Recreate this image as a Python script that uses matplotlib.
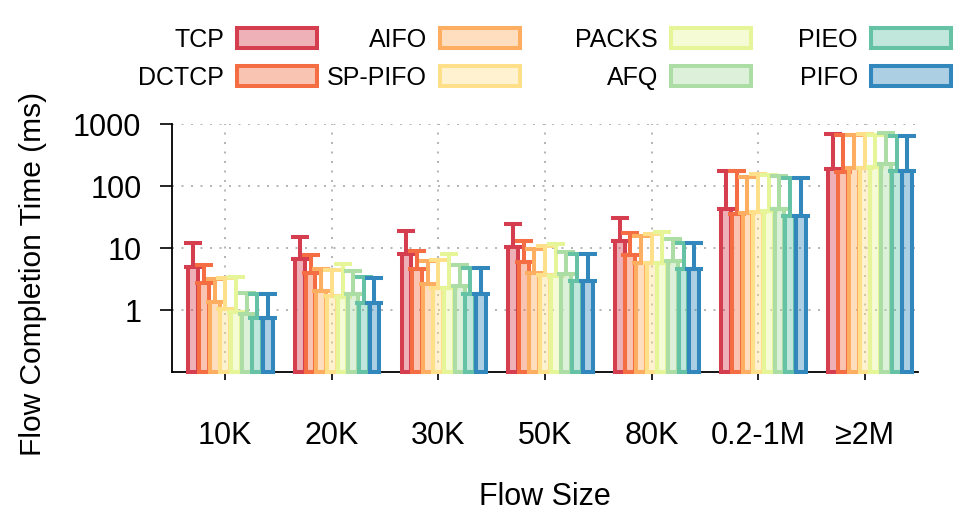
import numpy as np
import matplotlib
matplotlib.use("Agg")
import matplotlib.pyplot as plt
from matplotlib.patches import Patch
from matplotlib.colors import to_rgba
from matplotlib import font_manager

plt.rcParams['font.family'] = ['Liberation Sans', 'DejaVu Sans']

categories = ["10K", "20K", "30K", "50K", "80K", "0.2-1M", "≥2M"]
series = ["TCP", "DCTCP", "AIFO", "SP-PIFO", "PACKS", "AFQ", "PIEO", "PIFO"]
colors = ["#d53e4f", "#f46d43", "#fdae61", "#fee08b", "#e6f598", "#abdda4", "#66c2a5", "#3288bd"]

# mean flow completion times (ms), per series, per category
tcp    = [4.9, 6.7, 8.0, 10.5, 13.1, 43, 186]
dctcp  = [2.7, 3.9, 4.6, 5.95, 7.7, 35.7, 170]
aifo   = [1.35, 2.0, 2.6, 3.9, 5.8, 37, 192]
sppifo = [1.05, 1.68, 2.24, 3.7, 5.65, 37.6, 192]
packs  = [0.93, 1.64, 2.29, 3.6, 5.8, 40, 200]
afq    = [0.85, 1.81, 2.44, 3.8, 6.25, 43, 226]
pieo   = [0.75, 1.28, 1.81, 2.93, 4.6, 32.4, 176]
pifo   = [0.75, 1.31, 1.81, 2.93, 4.6, 33, 176]

# upper ends of the error bars (ms)
tcp_hi    = [11.9, 14.9, 19.0, 24.1, 30.1, 173, 682]
dctcp_hi  = [5.3, 7.7, 9.0, 12.8, 17.3, 175, 661]
aifo_hi   = [3.2, 4.6, 6.2, 9.7, 15.6, 141, 661]
sppifo_hi = [3.3, 4.47, 6.4, 10.9, 16.6, 155, 689]
packs_hi  = [3.37, 5.6, 7.9, 11.6, 18.1, 150, 670]
afq_hi    = [1.9, 4.2, 5.3, 8.6, 14.1, 143, 714]
pieo_hi   = [1.8, 3.37, 4.8, 7.9, 12.1, 134, 633]
pifo_hi   = [1.8, 3.28, 4.8, 7.9, 12.1, 134, 633]

means = [tcp, dctcp, aifo, sppifo, packs, afq, pieo, pifo]
highs = [tcp_hi, dctcp_hi, aifo_hi, sppifo_hi, packs_hi, afq_hi, pieo_hi, pifo_hi]

available = {f.name for f in font_manager.fontManager.ttflist}
if 'Liberation Sans Narrow' in available:
    leg_family = ['Liberation Sans Narrow', 'Liberation Sans', 'DejaVu Sans']
    leg_size = 21
else:
    leg_family = ['Liberation Sans', 'DejaVu Sans']
    leg_size = 18

W, H = 969, 527
fig = plt.figure(figsize=(W / 100, H / 100), dpi=100)
ax = fig.add_axes([172 / W, 1 - 372 / H, (918 - 172) / W, (372 - 124) / H])

ybase = 0.1
ax.set_yscale('log')
ax.set_ylim(ybase, 1000)
ax.set_xlim(-0.5, len(categories) - 0.5)

xs = np.arange(len(categories))
bw = 0.1
lw = 2.9
for i, (name, col, m, hi) in enumerate(zip(series, colors, means, highs)):
    m = np.array(m)
    hi = np.array(hi)
    x = xs + (i - 3) * bw
    fc = to_rgba(col, 0.4)
    ax.bar(x, m - ybase, bottom=ybase, width=bw * 0.93, facecolor=fc, edgecolor=col,
           linewidth=lw, zorder=3 + 2 * i, clip_on=False)
    ax.errorbar(x, m, yerr=[np.zeros_like(m), hi - m], fmt='none', ecolor=col,
                elinewidth=lw, capsize=6.5, capthick=lw, zorder=4 + 2 * i)

ax.set_xticks(xs)
ax.set_xticklabels(categories, fontsize=22)
ax.set_yticks([1, 10, 100, 1000])
ax.set_yticklabels(["1", "10", "100", "1000"], fontsize=22)
ax.yaxis.set_minor_locator(matplotlib.ticker.NullLocator())
ax.tick_params(axis='y', direction='out', length=9, width=1.2, pad=13)
ax.tick_params(axis='x', direction='out', length=6, width=1.2, pad=29)

for s in ['top', 'right']:
    ax.spines[s].set_visible(False)
for s in ['left', 'bottom']:
    ax.spines[s].set_linewidth(1.3)

ax.grid(True, which='major', color='#a8a8a8', linestyle=(0, (1.2, 4.5)), linewidth=1.2, zorder=0)
ax.set_axisbelow(True)

fig.text(33 / W, 1 - 274 / H, "Flow Completion Time (ms)", rotation=90, fontsize=21.5,
         ha='center', va='center')
fig.text(545 / W, 1 - 497 / H, "Flow Size", fontsize=22, ha='center', va='center')

# legend: 4 columns of 2 rows, text to the left of the swatch
px_per_em = leg_size * 100 / 72
right_edges = [317, 520, 751, 951]
for c in range(4):
    handles = []
    labels = []
    for r in range(2):
        k = c * 2 + r
        handles.append(Patch(facecolor=to_rgba(colors[k], 0.4), edgecolor=colors[k], linewidth=lw))
        labels.append(series[k])
    leg = fig.legend(handles, labels, loc='upper right', bbox_to_anchor=(right_edges[c] / W, 1 - 28 / H),
                     frameon=False, markerfirst=False,
                     prop={'family': leg_family, 'size': leg_size},
                     handlelength=80 / px_per_em, handleheight=21 / px_per_em,
                     handletextpad=13 / px_per_em, labelspacing=14 / px_per_em,
                     borderpad=0, borderaxespad=0)

fig.savefig("out.png", dpi=100)
